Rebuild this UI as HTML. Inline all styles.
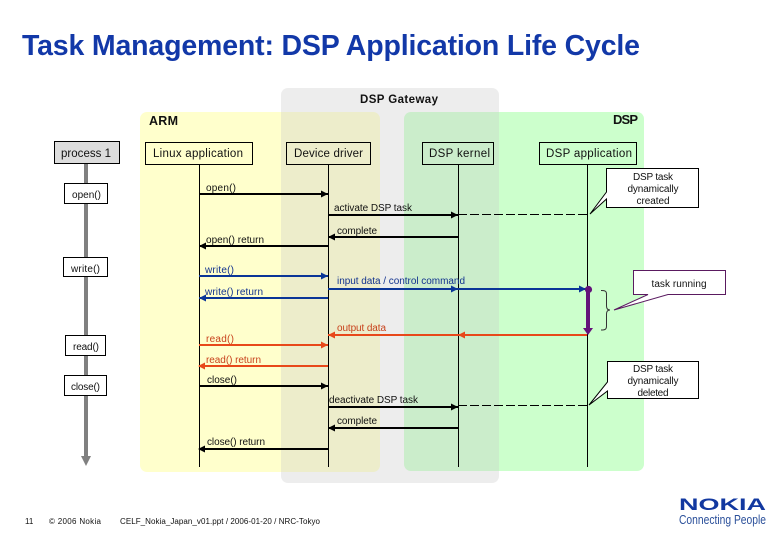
<!DOCTYPE html>
<html><head><meta charset="utf-8"><style>
html,body{margin:0;padding:0;background:#fff}
svg{display:block}
text{font-family:"Liberation Sans",sans-serif;font-size:10px;fill:#111}
.b{font-size:11.5px}
</style></head><body>
<svg width="780" height="540" viewBox="0 0 780 540" xmlns="http://www.w3.org/2000/svg">
<defs>
<path id="hr" d="M-7,-3.5 L0,0 L-7,3.5 Z"/>
<path id="hl" d="M7,-3.5 L0,0 L7,3.5 Z"/>
</defs>
<text x="22" y="55" style="font-size:28.5px;font-weight:bold;fill:#1238a8" textLength="618">Task Management: DSP Application Life Cycle</text>

<rect x="140" y="112" width="240" height="360" rx="7" fill="#ffffcc"/>
<rect x="404" y="112" width="240" height="359" rx="7" fill="#ccffcc"/>
<rect x="281" y="88" width="218" height="395" rx="7" fill="#c8c8c8" fill-opacity=".33"/>
<text x="360" y="103" style="font-size:11.5px;font-weight:bold" textLength="78">DSP Gateway</text>
<text x="149" y="125" style="font-size:12.5px;font-weight:bold" textLength="29">ARM</text>
<text x="613" y="124" style="font-size:13px;font-weight:bold" textLength="25">DSP</text>

<!-- process column -->
<rect x="84" y="163" width="4" height="295" fill="#808080"/>
<path d="M81,456 L91,456 L86,466 Z" fill="#808080"/>
<g stroke="#000" stroke-width="1">
<rect x="54.5" y="141.5" width="65" height="22" fill="#dddddd"/>
<rect x="64.5" y="183.5" width="43" height="20" fill="#fff"/>
<rect x="63.5" y="257.5" width="44" height="19" fill="#fff"/>
<rect x="65.5" y="335.5" width="40" height="20" fill="#fff"/>
<rect x="64.5" y="375.5" width="42" height="20" fill="#fff"/>
</g>
<text x="61" y="157" class="b" textLength="50">process 1</text>
<text x="72" y="198" textLength="29">open()</text>
<text x="71" y="272" textLength="29">write()</text>
<text x="73" y="350" textLength="26">read()</text>
<text x="71" y="390" textLength="29">close()</text>

<!-- lifelines -->
<g stroke="#000" stroke-width="1">
<line x1="199.5" y1="164" x2="199.5" y2="467"/>
<line x1="328.5" y1="164" x2="328.5" y2="467"/>
<line x1="458.5" y1="164" x2="458.5" y2="467"/>
<line x1="587.5" y1="164" x2="587.5" y2="467"/>
<g fill="none">
<rect x="145.5" y="142.5" width="107" height="22"/>
<rect x="286.5" y="142.5" width="84" height="22"/>
<rect x="422.5" y="142.5" width="71" height="22"/>
<rect x="539.5" y="142.5" width="97" height="22"/>
</g>
</g>
<text x="153" y="157" class="b" textLength="90">Linux application</text>
<text x="294" y="157" class="b" textLength="69">Device driver</text>
<text x="429" y="157" class="b" textLength="61">DSP kernel</text>
<text x="546" y="157" class="b" textLength="86">DSP application</text>

<!-- black arrows -->
<g stroke="#000" stroke-width="2">
<line x1="199" y1="194" x2="328" y2="194"/>
<line x1="328" y1="215" x2="458" y2="215"/>
<line x1="458" y1="237" x2="328" y2="237"/>
<line x1="328" y1="246" x2="199" y2="246"/>
<line x1="199" y1="386" x2="328" y2="386"/>
<line x1="328" y1="407" x2="458" y2="407"/>
<line x1="458" y1="428" x2="328" y2="428"/>
<line x1="328" y1="449" x2="199" y2="449"/>
</g>
<g fill="#000">
<use href="#hr" x="328" y="194"/><use href="#hr" x="458" y="215"/>
<use href="#hl" x="328" y="237"/><use href="#hl" x="199" y="246"/>
<use href="#hr" x="328" y="386"/><use href="#hr" x="458" y="407"/>
<use href="#hl" x="328" y="428"/><use href="#hl" x="198" y="449"/>
</g>
<!-- blue -->
<g stroke="#0a3597" stroke-width="2">
<line x1="199" y1="276" x2="328" y2="276"/>
<line x1="328" y1="289" x2="587" y2="289"/>
<line x1="328" y1="298" x2="199" y2="298"/>
</g>
<g fill="#0a3597">
<use href="#hr" x="328" y="276"/><use href="#hr" x="458" y="289"/><use href="#hr" x="586" y="289"/>
<use href="#hl" x="199" y="298"/>
</g>
<!-- orange -->
<g stroke="#e8481a" stroke-width="2">
<line x1="587" y1="335" x2="328" y2="335"/>
<line x1="199" y1="345" x2="328" y2="345"/>
<line x1="328" y1="366" x2="199" y2="366"/>
</g>
<g fill="#e8481a">
<use href="#hl" x="458" y="335"/><use href="#hl" x="328" y="335"/>
<use href="#hr" x="328" y="345"/><use href="#hl" x="198" y="366"/>
</g>

<!-- dashed -->
<g stroke="#000" stroke-width="1" stroke-dasharray="9 3">
<line x1="458" y1="214.5" x2="588" y2="214.5"/>
<line x1="458" y1="405.5" x2="588" y2="405.5"/>
</g>

<!-- purple -->
<rect x="586" y="289" width="4" height="41" fill="#64127a"/>
<path d="M583,328 L593,328 L588,335 Z" fill="#64127a"/>
<circle cx="588.5" cy="289.5" r="3.6" fill="#64127a"/>
<path d="M601,290.5 C605,290.5 606.5,291 606.5,294 L606.5,306 Q606.5,310 610,310 Q606.5,310 606.5,314 L606.5,326 C606.5,329.5 605,330 601,330" fill="none" stroke="#333" stroke-width="1"/>

<!-- labels -->
<text x="206" y="191" textLength="30">open()</text>
<text x="334" y="211" textLength="78">activate DSP task</text>
<text x="337" y="234" textLength="40">complete</text>
<text x="206" y="243" textLength="58">open() return</text>
<text x="205" y="273" style="fill:#12338f" textLength="29">write()</text>
<text x="337" y="284" style="fill:#12338f" textLength="128">input data / control command</text>
<text x="205" y="295" style="fill:#12338f" textLength="58">write() return</text>
<text x="337" y="331" style="fill:#c8421c" textLength="49">output data</text>
<text x="206" y="342" style="fill:#c8421c" textLength="28">read()</text>
<text x="206" y="363" style="fill:#c8421c" textLength="55">read() return</text>
<text x="207" y="383" textLength="30">close()</text>
<text x="329" y="403" textLength="89">deactivate DSP task</text>
<text x="337" y="424" textLength="40">complete</text>
<text x="207" y="445" textLength="58">close() return</text>

<!-- callouts -->
<path d="M606.5,168.5 H698.5 V207.5 H606.5 V199 L590,214 L606.5,192 Z" fill="#fff" stroke="#000"/>
<text x="653" y="180" text-anchor="middle" textLength="40">DSP task</text>
<text x="653" y="192" text-anchor="middle" textLength="51">dynamically</text>
<text x="653" y="204" text-anchor="middle" textLength="33">created</text>

<path d="M607.5,361.5 H698.5 V398.5 H607.5 V391 L589,405 L607.5,382 Z" fill="#fff" stroke="#000"/>
<text x="653" y="372" text-anchor="middle" textLength="40">DSP task</text>
<text x="653" y="384" text-anchor="middle" textLength="51">dynamically</text>
<text x="653" y="396" text-anchor="middle" textLength="31">deleted</text>

<path d="M633.5,270.5 H725.5 V294.5 H668 L614,310 L648,294.5 H633.5 Z" fill="#fff" stroke="#5a1a60"/>
<text x="679" y="287" text-anchor="middle" textLength="55">task running</text>

<!-- footer -->
<text x="25" y="524" style="font-size:8px">11</text>
<text x="49" y="524" style="font-size:8px" textLength="52">© 2006  Nokia</text>
<text x="120" y="524" style="font-size:8px" textLength="200">CELF_Nokia_Japan_v01.ppt / 2006-01-20 / NRC-Tokyo</text>
<text x="679" y="510" style="font-size:17px;font-weight:bold;fill:#1238a0" textLength="87" lengthAdjust="spacingAndGlyphs">NOKIA</text>
<text x="679" y="524" style="font-size:13px;fill:#2a4f9a" textLength="87" lengthAdjust="spacingAndGlyphs">Connecting People</text>
</svg>
</body></html>
